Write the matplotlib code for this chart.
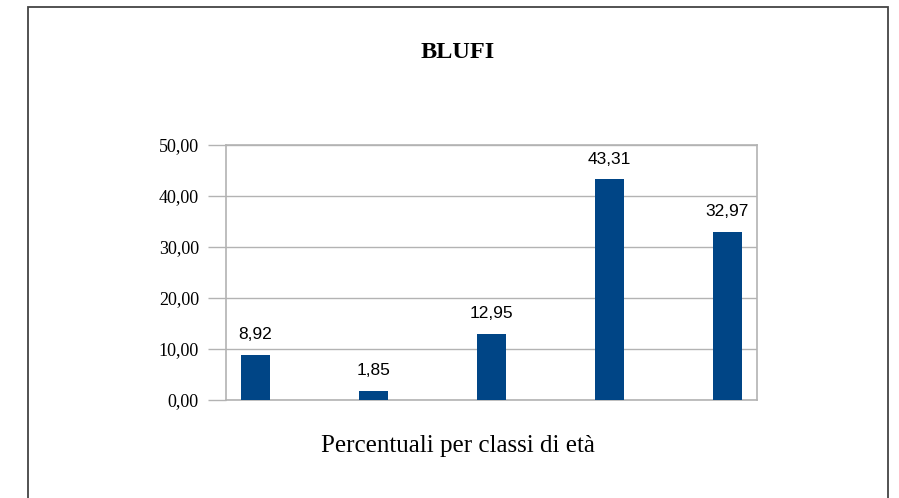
# Bar chart: BLUFI - percentuali per classi di eta
import matplotlib
matplotlib.use("Agg")
import matplotlib.pyplot as plt
from matplotlib.patches import Rectangle

# data
classi = ["classe 1", "classe 2", "classe 3", "classe 4", "classe 5"]  # age classes (labels not shown)
percentuali = [8.92, 1.85, 12.95, 43.31, 32.97]
y_ticks = [0, 10, 20, 30, 40, 50]

def fmt(v):
    # italian decimal comma
    return f"{v:.2f}".replace(".", ",")

fig = plt.figure(figsize=(8.99, 4.98), dpi=100)
fig.patch.set_facecolor("white")

# outer frame of the chart (runs past the bottom edge)
fig.patches.append(Rectangle((28 / 899, -0.05), (888 - 28) / 899, 1 - 7 / 498 + 0.05,
                             transform=fig.transFigure, fill=False,
                             edgecolor="#444444", linewidth=1.3))

ax = fig.add_axes([226 / 899, 1 - 400 / 498, (757 - 226) / 899, (400 - 145) / 498])
x = list(range(len(classi)))
bars = ax.bar(x, percentuali, width=0.254, color="#004586", zorder=3)

ax.set_xlim(-0.25, len(classi) - 0.75)
ax.set_ylim(0, 50)
ax.set_yticks(y_ticks)
ax.set_yticklabels([fmt(v) for v in y_ticks], family="Liberation Serif", fontsize=13)
ax.set_xticks([])
ax.yaxis.grid(True, color="#b3b3b3", linewidth=1)
ax.tick_params(axis="y", length=13, color="#b3b3b3", pad=6.5, width=1)
for s in ax.spines.values():
    s.set_color("#b3b3b3")
    s.set_linewidth(1.2)

# value labels above bars
for xi, v in zip(x, percentuali):
    ax.annotate(fmt(v), (xi, v), xytext=(0, 9), textcoords="offset points",
                ha="center", va="bottom", family="Liberation Sans", fontsize=12.5)

fig.text(458 / 899, 1 - 58 / 498, "BLUFI", ha="center", va="baseline",
         family="Liberation Serif", fontweight="bold", fontsize=17.5)
fig.text(458 / 899, 1 - 452 / 498, "Percentuali per classi di età", ha="center",
         va="baseline", family="Liberation Serif", fontsize=18)

fig.savefig("out.png", dpi=100)
